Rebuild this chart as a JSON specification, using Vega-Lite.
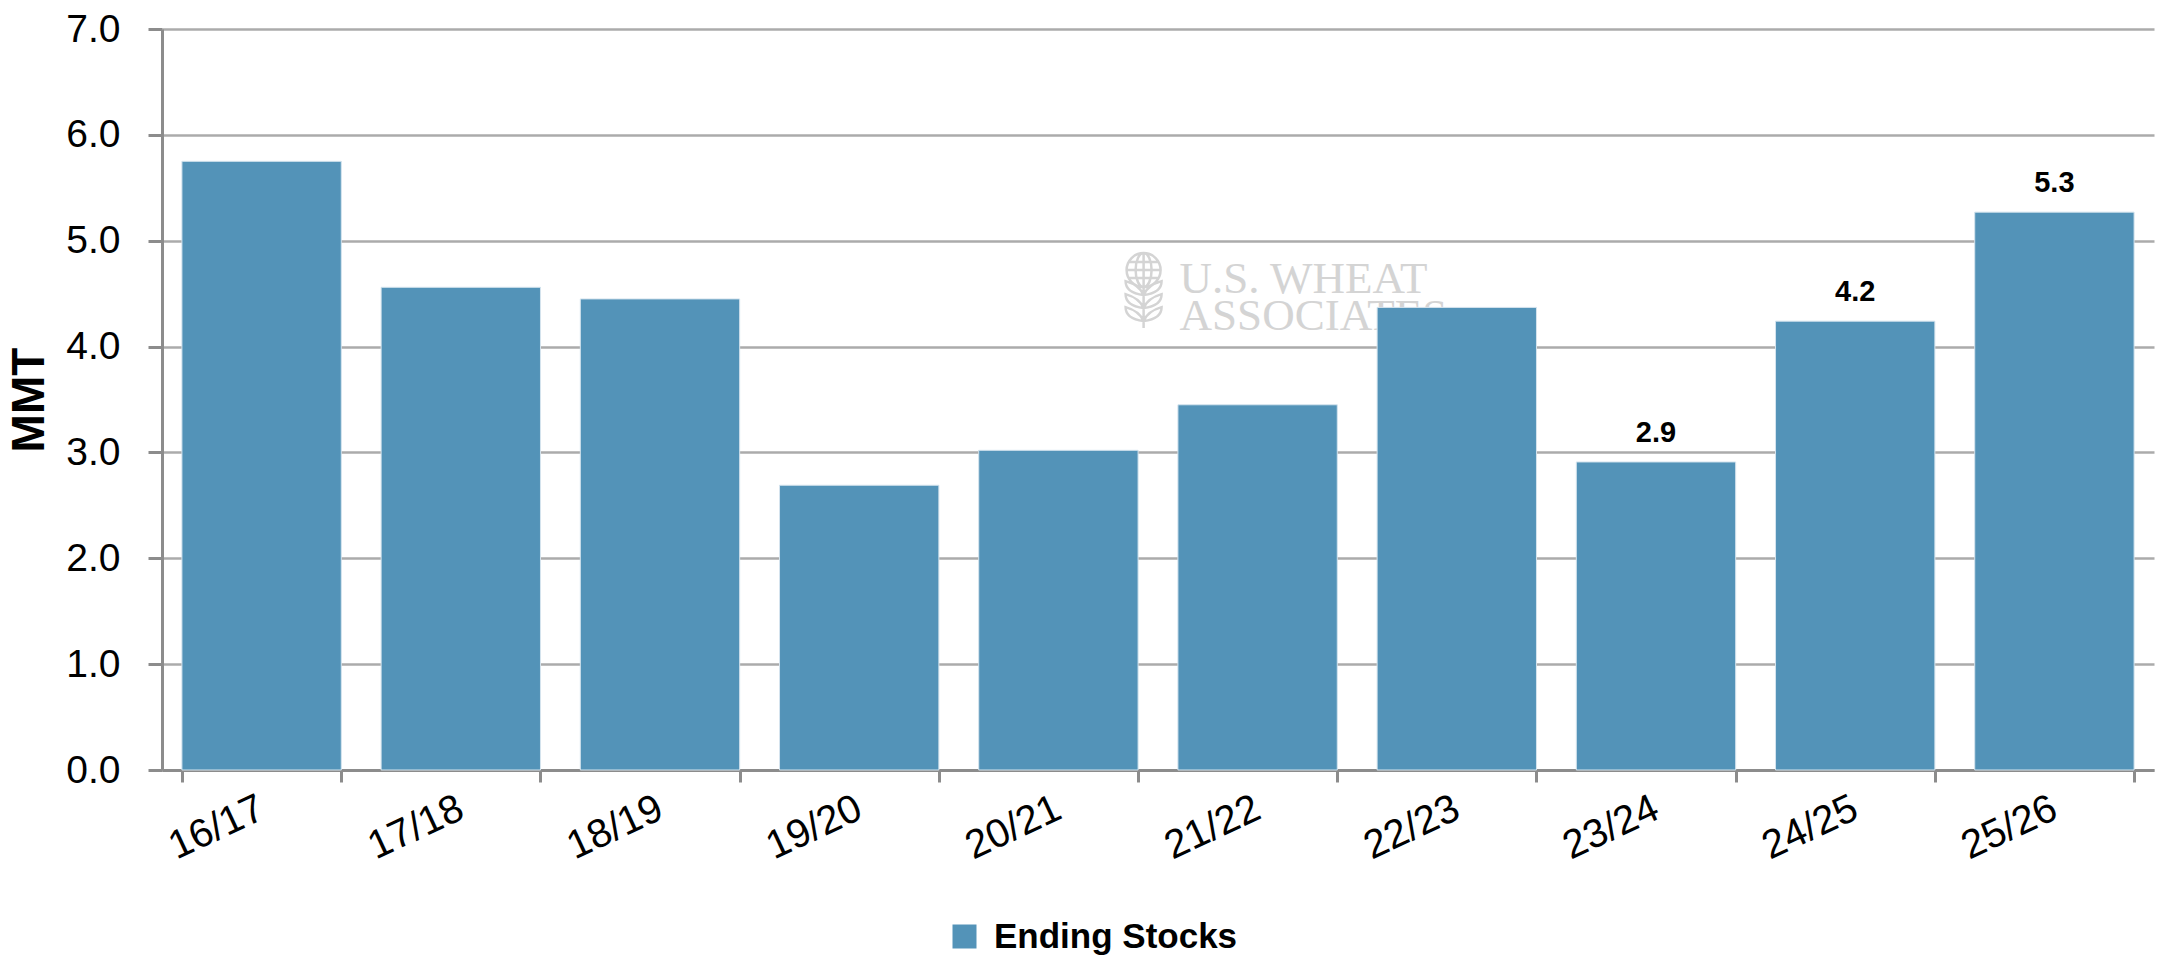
{
  "$schema": "https://vega.github.io/schema/vega-lite/v6.json",
  "autosize": "none",
  "width": 1992,
  "height": 741,
  "padding": {"left": 162, "top": 29, "right": 5, "bottom": 187},
  "background": "white",
  "datasets": {
    "stocks": [
      {"year": "16/17", "value": 5.75, "labeled": false},
      {"year": "17/18", "value": 4.56, "labeled": false},
      {"year": "18/19", "value": 4.45, "labeled": false},
      {"year": "19/20", "value": 2.69, "labeled": false},
      {"year": "20/21", "value": 3.02, "labeled": false},
      {"year": "21/22", "value": 3.45, "labeled": false},
      {"year": "22/23", "value": 4.37, "labeled": false},
      {"year": "23/24", "value": 2.91, "labeled": true},
      {"year": "24/25", "value": 4.24, "labeled": true},
      {"year": "25/26", "value": 5.27, "labeled": true}
    ],
    "watermark": [
      {"year": "21/22", "value": 4.505, "text": "U.S. WHEAT\nASSOCIATES"}
    ]
  },
  "layer": [
    {
      "data": {"name": "watermark"},
      "mark": {"type": "text", "font": "Liberation Serif", "fontSize": 45, "color": "#D4D4D4", "align": "left", "baseline": "alphabetic", "lineBreak": "\n", "lineHeight": 37, "dx": -78},
      "encoding": {
        "x": {"field": "year", "type": "nominal", "sort": null},
        "y": {"field": "value", "type": "quantitative"},
        "text": {"field": "text"}
      }
    },
    {
      "data": {"name": "watermark"},
      "mark": {
        "type": "point", "filled": false, "size": 4, "opacity": 1,
        "stroke": "#D4D4D4", "strokeWidth": 2.5,
        "shape": "M -131 -23 A 17 17 0 1 1 -97 -23 A 17 17 0 1 1 -131 -23 M -114 -40 A 8 17 0 0 0 -114 -6 A 8 17 0 0 0 -114 -40 M -114 -40 L -114 35 M -129 -31 L -99 -31 M -131 -23 L -97 -23 M -129 -15 L -99 -15 M -114 2 Q -132 0 -132 -12 Q -118 -8 -114 2 M -114 2 Q -96 0 -96 -12 Q -110 -8 -114 2 M -114 15 Q -132 13 -132 1 Q -118 5 -114 15 M -114 15 Q -96 13 -96 1 Q -110 5 -114 15 M -114 28 Q -132 26 -132 14 Q -118 18 -114 28 M -114 28 Q -96 26 -96 14 Q -110 18 -114 28"
      },
      "encoding": {
        "x": {"field": "year", "type": "nominal", "sort": null},
        "y": {"field": "value", "type": "quantitative"}
      }
    },
    {
      "data": {"name": "stocks"},
      "mark": {"type": "bar", "stroke": "#D5E4EE", "strokeWidth": 1},
      "encoding": {
        "x": {
          "field": "year", "type": "nominal", "sort": null,
          "scale": {"domain": ["16/17", "17/18", "18/19", "19/20", "20/21", "21/22", "22/23", "23/24", "24/25", "25/26"], "paddingInner": 0.2, "paddingOuter": 0.1},
          "axis": {
            "title": null, "tickBand": "extent", "labelAngle": -25,
            "labelFont": "Liberation Sans", "labelFontSize": 40, "labelColor": "#000000",
            "tickColor": "#8C8C8C", "tickSize": 12, "tickWidth": 3,
            "domainColor": "#8C8C8C", "domainWidth": 3, "labelPadding": 24, "grid": false
          }
        },
        "y": {
          "field": "value", "type": "quantitative",
          "scale": {"domain": [0, 7], "nice": false},
          "axis": {
            "title": "MMT", "values": [0, 1, 2, 3, 4, 5, 6, 7], "format": ".1f",
            "labelFont": "Liberation Sans", "labelFontSize": 39, "labelColor": "#000000",
            "labelPadding": 28,
            "tickColor": "#8C8C8C", "tickSize": 14, "tickWidth": 3,
            "domainColor": "#8C8C8C", "domainWidth": 3,
            "gridColor": "#ABABAB", "gridWidth": 2.5,
            "titleFont": "Liberation Sans", "titleFontWeight": "bold", "titleFontSize": 46, "titleColor": "#000000",
            "titlePadding": 12
          }
        },
        "color": {
          "datum": "Ending Stocks",
          "scale": {"range": ["#5393B8"]},
          "legend": {
            "title": null, "orient": "none", "legendX": 785, "legendY": 890,
            "direction": "horizontal", "symbolType": "square", "symbolSize": 576,
            "symbolStrokeWidth": 0, "labelFont": "Liberation Sans",
            "labelFontWeight": "bold", "labelFontSize": 35, "labelColor": "#000000",
            "labelLimit": 600, "labelOffset": 12
          }
        }
      }
    },
    {
      "data": {"name": "stocks"},
      "transform": [{"filter": "datum.labeled"}],
      "mark": {"type": "text", "font": "Liberation Sans", "fontWeight": "bold", "fontSize": 29, "color": "#000000", "baseline": "alphabetic", "dy": -20},
      "encoding": {
        "x": {"field": "year", "type": "nominal", "sort": null},
        "y": {"field": "value", "type": "quantitative"},
        "text": {"field": "value", "type": "quantitative", "format": ".1f"}
      }
    }
  ],
  "config": {
    "view": {"stroke": null}
  }
}
